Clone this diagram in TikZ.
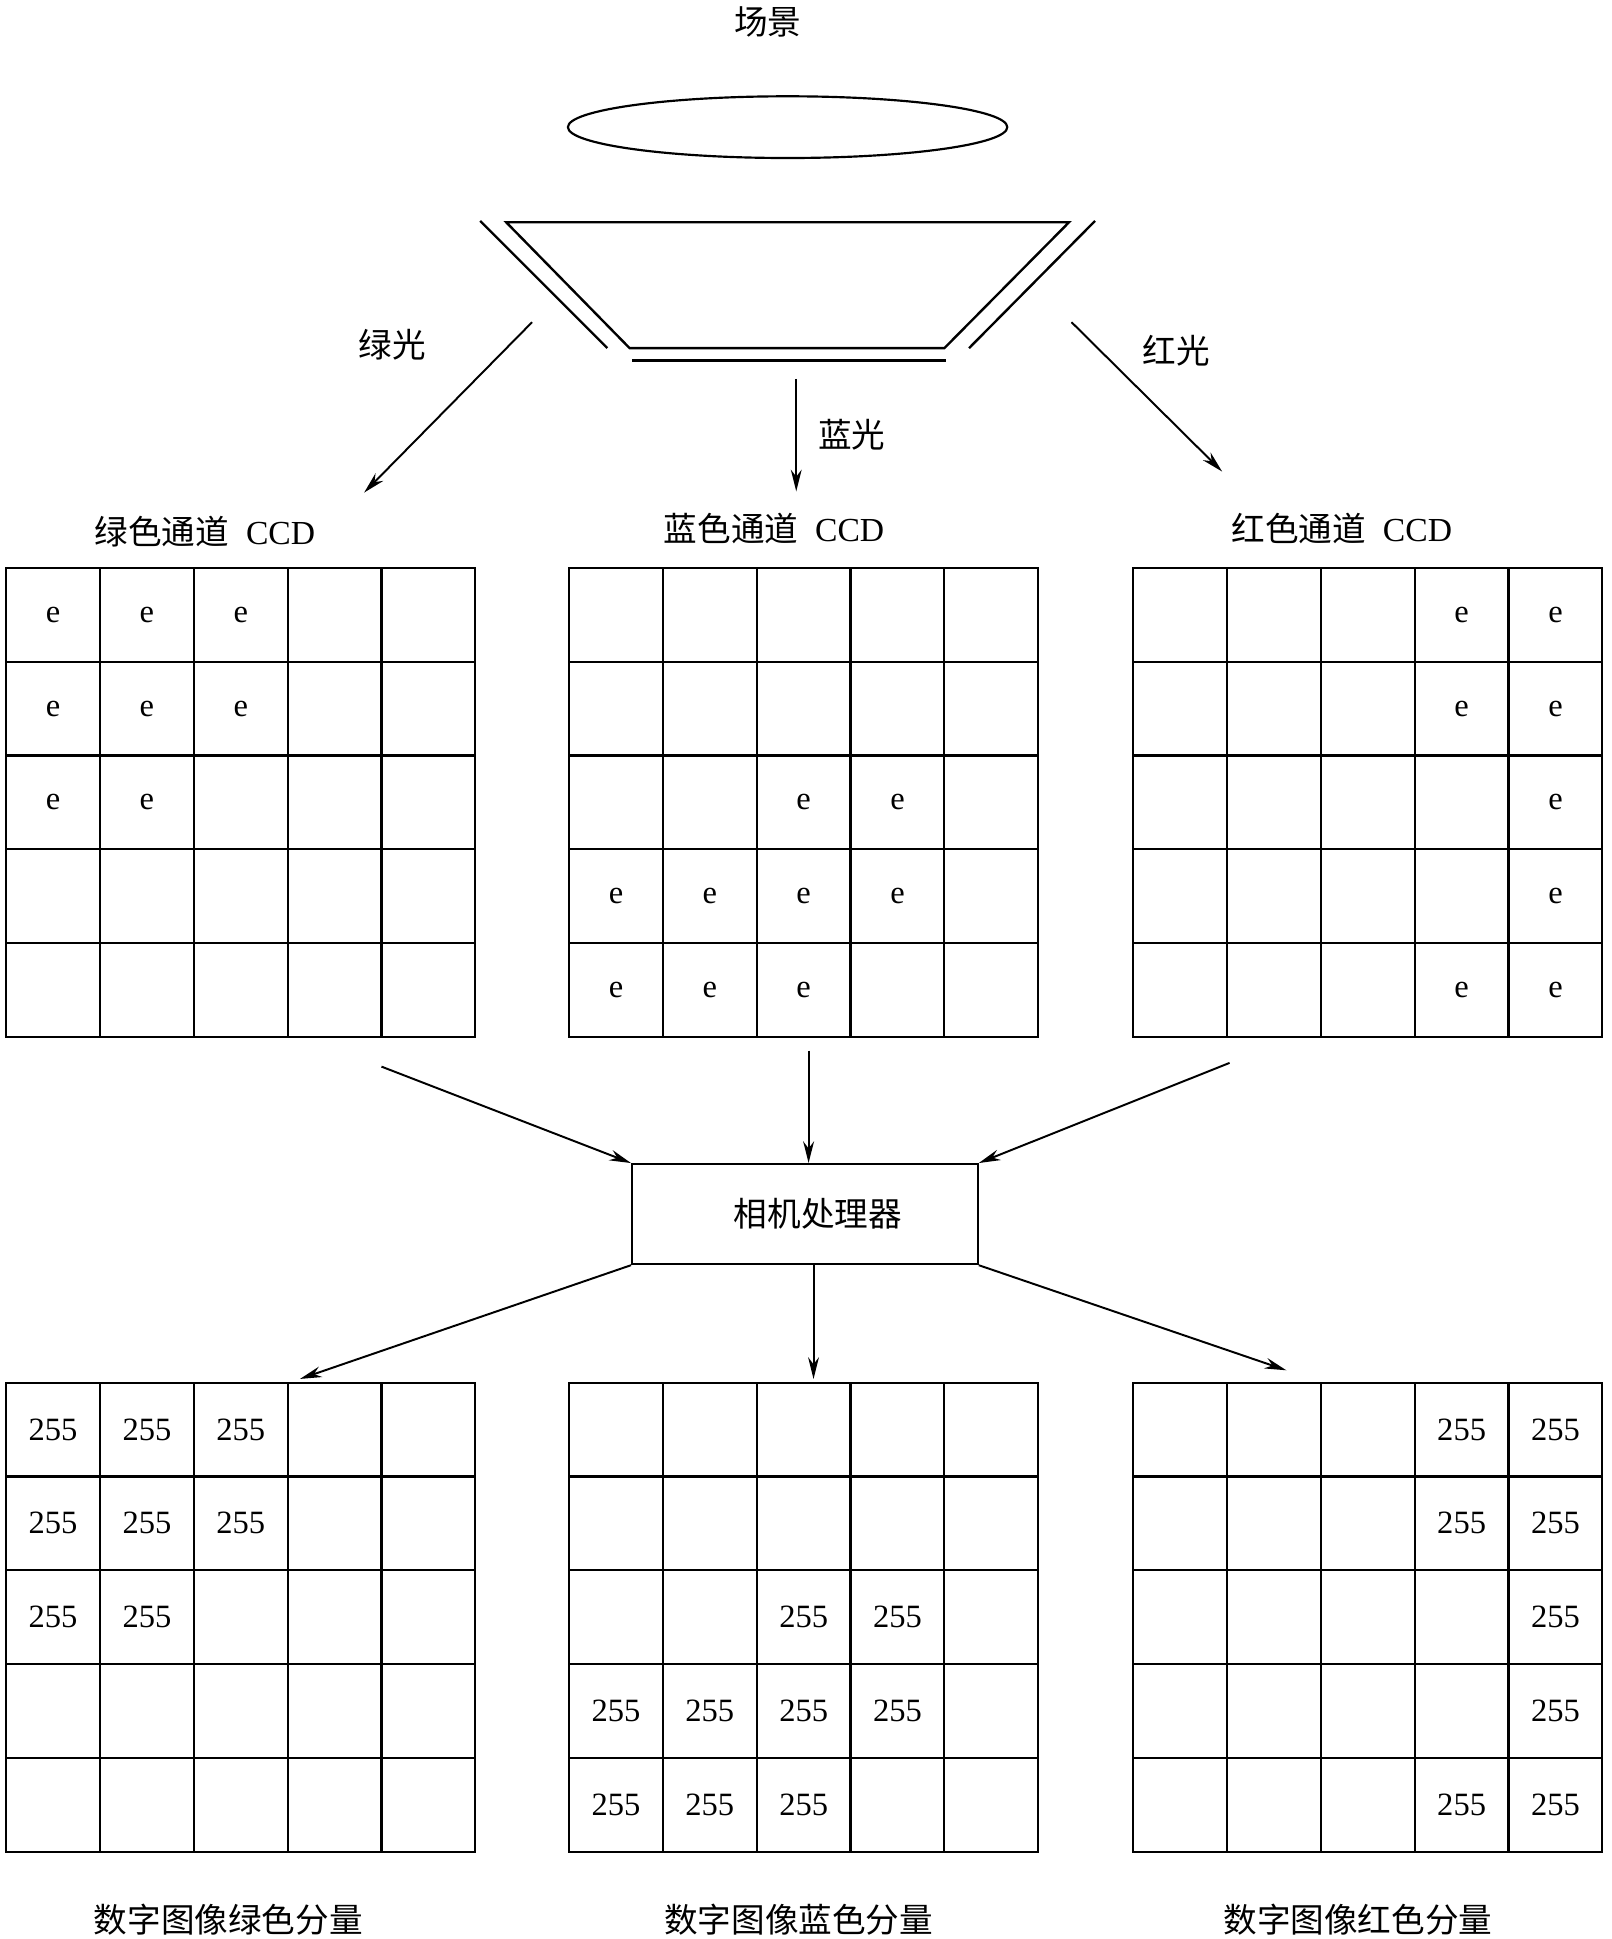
\documentclass[tikz,border=0pt]{standalone}
\usepackage{fontspec}
\setmainfont{Liberation Serif}
\newfontfamily\cjk{Noto Sans CJK SC}
\usepackage{tikz}
\usetikzlibrary{positioning, calc, shapes.geometric, arrows.meta}
\tikzset{
    cell/.style={
        rectangle,
        minimum size=1.52cm,
        inner sep=0pt,
        outer sep=0pt
    },
    gridline/.style={line width=1pt, line cap=rect},
    etext/.style={font=\fontsize{15}{18}\selectfont},
    numtext/.style={font=\fontsize{15}{18}\selectfont},
    lbl/.style={font=\fontsize{15.5}{18}\selectfont, inner sep=0pt},
    procbox/.style={
        draw,
        line width=1pt,
        minimum width=5.6cm,
        minimum height=1.62cm,
        font=\cjk\fontsize{15.5}{18}\selectfont
    },
    lens/.style={line width=1.1pt},
    ptr/.style={
        ->,
        >={Stealth[length=10pt, width=5pt]},
        line width=0.9pt
    }
}

\begin{document}
\begin{tikzpicture}[x=0.02cm, y=-0.02cm]
    \useasboundingbox (0,0) rectangle (1305,1570.7);

    % 场景与镜头
    \node[lbl] (sceneName) at (622,18) {\cjk 场景};
    \node[draw, ellipse, line width=1pt, minimum width=7.12cm, minimum height=1cm, inner sep=0pt] (scene) at (638,103) {};
    \draw[lens] (410,180) -- (866,180) -- (765,282) -- (510,282) -- cycle;
    \draw[lens] (389,179) -- (492,282);
    \draw[lens] (887,179) -- (785,282);
    \draw[lens] (512,292) -- (766,292);

    % 分光
    \coordinate (gFrom) at (431,261);
    \coordinate (gTo) at (295,399);
    \coordinate (bFrom) at (645,307);
    \coordinate (bTo) at (645,398);
    \coordinate (rFrom) at (868,261);
    \coordinate (rTo) at (990,382);
    \draw[ptr] (gFrom) -- (gTo);
    \draw[ptr] (bFrom) -- (bTo);
    \draw[ptr] (rFrom) -- (rTo);
    \node[lbl] (gLight) at (318,279) {\cjk 绿光};
    \node[lbl] (bLight) at (690,352) {\cjk 蓝光};
    \node[lbl] (rLight) at (953,284) {\cjk 红光};

    % CCD 与输出网格
    \node[lbl] (tG) at (166,431) {{\cjk 绿色通道}\ \ CCD};
    \node[lbl] (tB) at (627,428) {{\cjk 蓝色通道}\ \ CCD};
    \node[lbl] (tR) at (1087,428) {{\cjk 红色通道}\ \ CCD};
    \foreach \gx/\gy/\gn in {5/460/ccdG, 461/460/ccdB, 918/460/ccdR, 5/1120/outG, 461/1120/outB, 918/1120/outR} {
        \foreach \k in {0,...,5} {
            \draw[gridline] ({\gx+76*\k}, \gy) -- ({\gx+76*\k}, {\gy+380});
            \draw[gridline] (\gx, {\gy+76*\k}) -- ({\gx+380}, {\gy+76*\k});
        }
        \foreach \r in {0,...,4}
            \foreach \c in {0,...,4}
                \node[cell] (\gn-\r-\c) at ({\gx+38+76*\c}, {\gy+38+76*\r}) {};
    }

    \foreach \r/\c in {0/0, 0/1, 0/2, 1/0, 1/1, 1/2, 2/0, 2/1} {
        \node[etext] (eG-\r-\c) at (ccdG-\r-\c) {e};
        \node[numtext] (nG-\r-\c) at (outG-\r-\c) {255};
    }
    \foreach \r/\c in {2/2, 2/3, 3/0, 3/1, 3/2, 3/3, 4/0, 4/1, 4/2} {
        \node[etext] (eB-\r-\c) at (ccdB-\r-\c) {e};
        \node[numtext] (nB-\r-\c) at (outB-\r-\c) {255};
    }
    \foreach \r/\c in {0/3, 0/4, 1/3, 1/4, 2/4, 3/4, 4/3, 4/4} {
        \node[etext] (eR-\r-\c) at (ccdR-\r-\c) {e};
        \node[numtext] (nR-\r-\c) at (outR-\r-\c) {255};
    }

    % 相机处理器
    \node[procbox] (proc) at (652,983.5) {\hspace*{12pt}相机处理器};
    \coordinate (inG) at (309,864);
    \coordinate (inB) at (655,851);
    \coordinate (inR) at (996,861);
    \draw[ptr] (inG) -- (proc.north west);
    \draw[ptr] (inB) -- (inB |- proc.north);
    \draw[ptr] (inR) -- (proc.north east);
    \coordinate (toG) at (243,1117);
    \coordinate (toB) at (659,1117);
    \coordinate (toR) at (1042,1110);
    \draw[ptr] (proc.south west) -- (toG);
    \draw[ptr] (toB |- proc.south) -- (toB);
    \draw[ptr] (proc.south east) -- (toR);

    % 输出名称
    \node[lbl] (nameG) at (185,1555) {\cjk 数字图像绿色分量};
    \node[lbl] (nameB) at (647,1555) {\cjk 数字图像蓝色分量};
    \node[lbl] (nameR) at (1100,1555) {\cjk 数字图像红色分量};
\end{tikzpicture}
\end{document}
